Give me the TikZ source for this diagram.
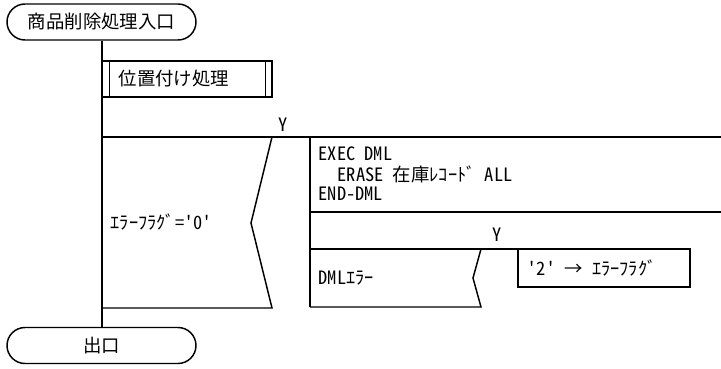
\documentclass[tikz,border=0pt]{standalone}
\usepackage{fontspec}
\setmainfont{Noto Sans CJK JP}
\newfontfamily\hwfont{Noto Sans CJK JP}[RawFeature=+hwid]
\usetikzlibrary{positioning,calc}

\begin{document}
\begin{tikzpicture}[
  x=0.75pt, y=-0.75pt,
  line width=1.1pt,
  font=\fontsize{13.8}{16}\selectfont,
  term/.style={draw, rounded corners=13.5pt, minimum width=141.75pt,
               minimum height=27pt, inner sep=0pt},
  subbox/.style={draw, minimum width=127.5pt, minimum height=27pt, inner sep=0pt},
  txt/.style={anchor=west, inner sep=0pt},
  code/.style={txt, font=\fontsize{13.8}{16}\hwfont},
  yes/.style={inner sep=0pt, font=\fontsize{13.8}{16}\hwfont}]

\useasboundingbox (0,0) rectangle (721,368);

% terminals
\node[term] (start) at (101.5,22) {商品削除処理入口};
\node[term] (exit) at (101.5,345.5) {出口};

% main line
\draw (start.south -| 102,0) -- (exit.north -| 102,0);

% sub process
\node[subbox, fill=white] (locate) at (187,79) {};
\draw ($(locate.north west)+(8,0)$) -- ($(locate.south west)+(8,0)$);
\draw ($(locate.north east)+(-7,0)$) -- ($(locate.south east)+(-7,0)$);
\node[txt] (locatetxt) at (118,79) {位置付け処理};

% outer condition
\node[yes] (y1) at (283,125) {Y};
\draw (102,137) -- (721,137);
\draw (272,137) -- (251,223) -- (272,308) -- (102,308);
\node[code] (cond1) at (110,222) {ｴﾗｰﾌﾗｸﾞ='0'};

% yes branch
\draw (310,137) -- (310,307);
\node[code] (exec) at (318,154) {EXEC DML};
\node[code] (erase) at (337,174) {ERASE 在庫ﾚｺｰﾄﾞ ALL};
\node[code] (enddml) at (318,194) {END-DML};
\draw (310,212) -- (721,212);

% inner condition
\node[yes] (y2) at (497,235) {Y};
\draw (310,249) -- (518,249);
\draw (481,249) -- (473,278) -- (481,307) -- (310,307);
\node[code] (cond2) at (318,278) {DMLｴﾗｰ};

\node[draw, minimum width=129pt, minimum height=28.5pt, inner sep=0pt]
  (seterr) at (604,268) {};
\node[code] (seterrtxt) at (527,268) {'2' → ｴﾗｰﾌﾗｸﾞ};
\end{tikzpicture}
\end{document}
